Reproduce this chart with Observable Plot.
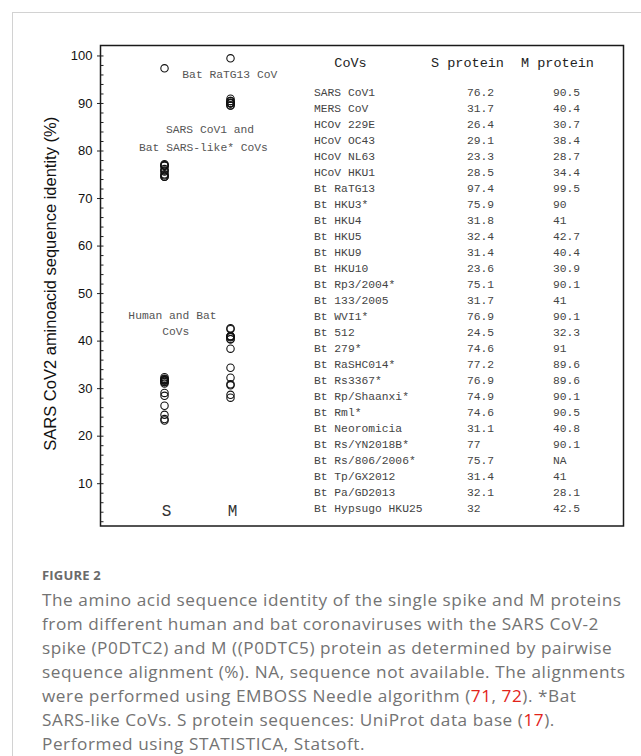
<!DOCTYPE html>
<html>
<head>
<meta charset="utf-8">
<script src="https://cdn.jsdelivr.net/npm/d3@7"></script>
<script src="https://cdn.jsdelivr.net/npm/@observablehq/plot@0.6"></script>
<style>
  html, body { margin: 0; padding: 0; background: #fff; }
  body { width: 641px; height: 756px; position: relative; overflow: hidden; }
  #border { position: absolute; left: 12px; top: 12px; width: 720px; height: 800px;
            border-left: 1px solid #d2d2d2; border-top: 1px solid #d2d2d2; }
  #chart { position: absolute; left: 0; top: 0; width: 641px; height: 540px; }
  #chart svg { position: absolute; left: 0; top: 0; }
  #caption { position: absolute; left: 42px; top: 566px; white-space: nowrap;
             font-family: "Open Sans", "Noto Sans", sans-serif; color: #737373; }
  #caption .fig { font-weight: 700; font-size: 13px; line-height: 18px; letter-spacing: 0.2px; color: #6a6a6a; }
  #caption .txt { font-size: 17.2px; line-height: 24px; letter-spacing: 0.55px; margin-top: 4px; }
  #caption .ref { color: #e2231a; }
</style>
</head>
<body>
<div id="border"></div>
<div id="chart"></div>
<div id="caption">
  <div class="fig">FIGURE 2</div>
  <div class="txt">The amino acid sequence identity of the single spike and M proteins<br>from different human and bat coronaviruses with the SARS CoV-2<br>spike (P0DTC2) and M ((P0DTC5) protein as determined by pairwise<br>sequence alignment (%). NA, sequence not available. The alignments<br>were performed using EMBOSS Needle algorithm (<span class="ref">71</span>, <span class="ref">72</span>). *Bat<br>SARS-like CoVs. S protein sequences: UniProt data base (<span class="ref">17</span>).<br>Performed using STATISTICA, Statsoft.</div>
</div>
<script>
// ---------------- data ----------------
const names = ["SARS CoV1", "MERS CoV", "HCOv 229E", "HCoV OC43", "HCoV NL63", "HCoV HKU1",
  "Bt RaTG13", "Bt HKU3*", "Bt HKU4", "Bt HKU5", "Bt HKU9", "Bt HKU10", "Bt Rp3/2004*",
  "Bt 133/2005", "Bt WVI1*", "Bt 512", "Bt 279*", "Bt RaSHC014*", "Bt Rs3367*",
  "Bt Rp/Shaanxi*", "Bt Rml*", "Bt Neoromicia", "Bt Rs/YN2018B*", "Bt Rs/806/2006*",
  "Bt Tp/GX2012", "Bt Pa/GD2013", "Bt Hypsugo HKU25"];
const sProtein = [76.2, 31.7, 26.4, 29.1, 23.3, 28.5, 97.4, 75.9, 31.8, 32.4, 31.4, 23.6, 75.1,
  31.7, 76.9, 24.5, 74.6, 77.2, 76.9, 74.9, 74.6, 31.1, 77, 75.7, 31.4, 32.1, 32];
const mProtein = [90.5, 40.4, 30.7, 38.4, 28.7, 34.4, 99.5, 90, 41, 42.7, 40.4, 30.9, 90.1,
  41, 90.1, 32.3, 91, 89.6, 89.6, 90.1, 90.5, 40.8, 90.1, null, 41, 28.1, 42.5];
const proteins = ["S", "M"];
const tableHeaders = ["CoVs", "S protein", "M protein"];
const yTicks = [10, 20, 30, 40, 50, 60, 70, 80, 90, 100];
const yMinorTicks = d3.range(2, 101, 2);
const yLabel = "SARS CoV2 aminoacid sequence identity (%)";
const startNotes = [
  {text: "Bat RaTG13 CoV", x: 1.27, y: 96.1}
];
const centerNotes = [
  {text: "SARS CoV1 and", x: 1.69, y: 84.5},
  {text: "Bat SARS-like* CoVs", x: 1.59, y: 80.8},
  {text: "Human and Bat", x: 1.12, y: 45.5},
  {text: "CoVs", x: 1.17, y: 42.1}
];

// ---------------- layout ----------------
const W = 641, H = 540;
const frameL = 100, frameR = 623, frameT = 45, frameB = 525.5;
const mono = "'Courier New', 'Liberation Mono', monospace";
const sans = "Arial, 'Liberation Sans', sans-serif";
const colX = {name: 313.5, s: 466.5, m: 552.5};
const headerX = [350, 467, 557];
const rowTop = 91.5, rowBottom = 509, headerY = 62;

const points = [];
sProtein.forEach((v, i) => points.push({protein: "S", x: 1, v, name: names[i]}));
mProtein.forEach((v, i) => { if (v != null) points.push({protein: "M", x: 2, v, name: names[i]}); });

const main = Plot.plot({
  width: W, height: H,
  marginLeft: frameL, marginRight: W - frameR, marginTop: frameT, marginBottom: H - frameB,
  x: {domain: [0.03, 7.955], axis: null},
  y: {domain: [1.1, 102.2]},
  style: {background: "transparent", overflow: "visible"},
  marks: [
    Plot.tickY(yMinorTicks, {y: d => d, insetRight: (frameR - frameL) - 3.5, stroke: "#222", strokeWidth: 1}),
    Plot.axisY(yTicks, {anchor: "left", tickSize: 3, tickPadding: 5, fontSize: 13, fontFamily: sans,
      fill: "#111", stroke: "#222", label: null}),
    Plot.frame({stroke: "#1a1a1a", strokeWidth: 1.5}),
    Plot.dot(points, {x: "x", y: "v", r: 3.7, stroke: "#111", fill: "none", strokeWidth: 1.1}),
    Plot.text(proteins, {x: (d, i) => i + 1, frameAnchor: "bottom", lineAnchor: "middle", dy: -15.5, dx: 2,
      text: d => d, fontSize: 16, fontFamily: mono, fill: "#333"}),
    Plot.text(startNotes, {x: "x", y: "y", text: "text", textAnchor: "start",
      fontSize: 11.3, fontFamily: mono, fill: "#555"}),
    Plot.text(centerNotes, {x: "x", y: "y", text: "text", textAnchor: "middle",
      fontSize: 11.3, fontFamily: mono, fill: "#555"}),
    Plot.text([yLabel], {frameAnchor: "left", textAnchor: "middle", rotate: -90, dx: -50, dy: -2,
      fontSize: 16.5, fontFamily: sans, fill: "#111"})
  ]
});
document.getElementById("chart").appendChild(main);

const rows = names.map((name, i) => ({name, s: sProtein[i], m: mProtein[i]}));
const table = Plot.plot({
  width: W, height: H,
  marginLeft: 0, marginRight: 0, marginTop: rowTop, marginBottom: H - rowBottom,
  x: {type: "linear", domain: [0, W], axis: null},
  y: {type: "point", domain: names, padding: 0, axis: null},
  style: {background: "transparent", overflow: "visible"},
  marks: [
    Plot.text(tableHeaders, {x: (d, i) => headerX[i], frameAnchor: "top", lineAnchor: "middle",
      dy: headerY - rowTop, text: d => d, fontSize: 13.5, fontFamily: mono, fill: "#222"}),
    Plot.text(rows, {x: () => colX.name, y: "name", text: "name", textAnchor: "start",
      fontSize: 11.3, fontFamily: mono, fill: "#444"}),
    Plot.text(rows, {x: () => colX.s, y: "name", text: d => String(d.s), textAnchor: "start",
      fontSize: 11.3, fontFamily: mono, fill: "#444"}),
    Plot.text(rows, {x: () => colX.m, y: "name", text: d => d.m == null ? "NA" : String(d.m),
      textAnchor: "start", fontSize: 11.3, fontFamily: mono, fill: "#444"})
  ]
});
document.getElementById("chart").appendChild(table);
</script>
</body>
</html>
